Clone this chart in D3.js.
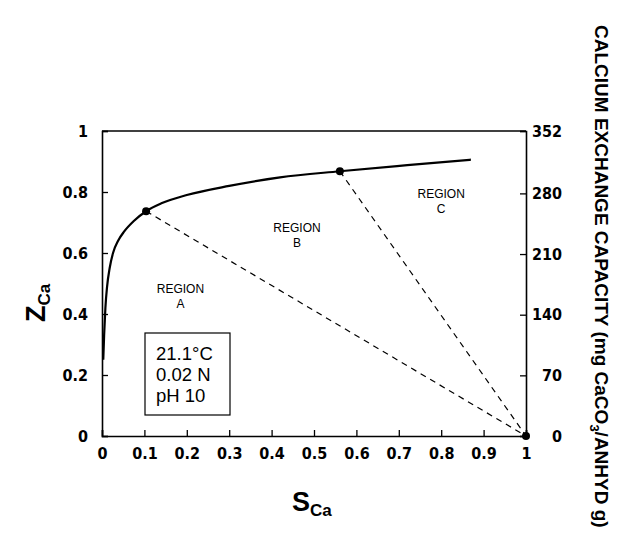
<!DOCTYPE html>
<html>
<head>
	<meta charset="utf-8">
	<script src="https://d3js.org/d3.v7.min.js"></script>
	<title>Calcium exchange isotherm</title>
	<style type="text/css">
		body { margin: 0; background: #fff; }
		.tick text { font-family: "DejaVu Sans Condensed", "Liberation Sans", sans-serif; font-stretch: condensed; font-weight: bold; font-size: 16px; }
	</style>
</head>
<body>
	<div id="chartContainer"></div>
	<script type="text/javascript">
		// curve
		var sCa = [0.003, 0.005, 0.008, 0.012, 0.018, 0.026, 0.038, 0.052, 0.075, 0.104, 0.14, 0.2, 0.3, 0.42, 0.561, 0.72, 0.87];
		var zCa = [0.25, 0.33, 0.42, 0.49, 0.55, 0.60, 0.64, 0.67, 0.705, 0.737, 0.763, 0.79, 0.82, 0.848, 0.868, 0.888, 0.906];
		// region boundary points
		var dotS = [0.104, 0.561, 1];
		var dotZ = [0.737, 0.868, 0];
		var xTicks = [0, 0.1, 0.2, 0.3, 0.4, 0.5, 0.6, 0.7, 0.8, 0.9, 1];
		var yTicks = [0, 0.2, 0.4, 0.6, 0.8, 1];
		var capTicks = [0, 70, 140, 210, 280, 352];
		var regions = [["REGION", "A", 0.185, 0.47], ["REGION", "B", 0.46, 0.67], ["REGION", "C", 0.8, 0.78]];
		var legendLines = ["21.1°C", "0.02 N", "pH 10"];

		var svg = d3.select('#chartContainer').append('svg')
			.attr('width', 621).attr('height', 540);

		var x = d3.scaleLinear().domain([0, 1]).range([102, 526]);
		var y = d3.scaleLinear().domain([0, 1]).range([436, 131]);
		var y2 = d3.scaleLinear().domain([0, 352]).range([436, 131]);

		// frame top line
		svg.append('line')
			.attr('x1', x(0)).attr('x2', x(1)).attr('y1', y(1)).attr('y2', y(1))
			.attr('stroke', '#000').attr('stroke-width', 1.5);

		var xAxis = svg.append('g').attr('transform', 'translate(0,' + y(0) + ')')
			.call(d3.axisBottom(x).tickValues(xTicks).tickSize(-6).tickPadding(12)
				.tickFormat(function (d) { return d === 0 ? '0' : d3.format('.1f')(d).replace(/\.0$/, ''); }));
		var yAxis = svg.append('g').attr('transform', 'translate(' + x(0) + ',0)')
			.call(d3.axisLeft(y).tickValues(yTicks).tickSize(-6).tickPadding(14)
				.tickFormat(function (d) { return d === 0 || d === 1 ? d : d3.format('.1f')(d); }));
		var y2Axis = svg.append('g').attr('transform', 'translate(' + x(1) + ',0)')
			.call(d3.axisRight(y2).tickValues(capTicks).tickSize(-6).tickPadding(16));
		y2Axis.selectAll('text').attr('text-anchor', 'end').attr('x', 36);

		[xAxis, yAxis, y2Axis].forEach(function (g) {
			g.select('.domain').attr('stroke-width', 1.6);
			g.selectAll('.tick line').attr('stroke-width', 1.3);
			g.selectAll('.tick text').attr('fill', '#000');
		});

		// dashed region boundaries
		for (var i = 0; i < 2; i++) {
			svg.append('line')
				.attr('x1', x(dotS[i])).attr('y1', y(dotZ[i]))
				.attr('x2', x(dotS[2])).attr('y2', y(dotZ[2]))
				.attr('stroke', '#000').attr('stroke-width', 1.2)
				.attr('stroke-dasharray', '6,5');
		}

		// isotherm
		var line = d3.line()
			.x(function (d, i) { return x(sCa[i]); })
			.y(function (d, i) { return y(zCa[i]); })
			.curve(d3.curveMonotoneX);
		svg.append('path').datum(sCa)
			.attr('d', line)
			.attr('fill', 'none').attr('stroke', '#000').attr('stroke-width', 2.2);

		svg.selectAll('circle.dot').data(dotS).enter().append('circle')
			.attr('class', 'dot')
			.attr('cx', function (d) { return x(d); })
			.attr('cy', function (d, i) { return y(dotZ[i]); })
			.attr('r', 4).attr('fill', '#000');

		// region labels
		regions.forEach(function (r) {
			var t = svg.append('text')
				.attr('x', x(r[2])).attr('y', y(r[3]))
				.style('text-anchor', 'middle')
				.style('font-family', 'Liberation Sans, Arial, sans-serif')
				.style('font-size', '12px');
			t.append('tspan').attr('x', x(r[2])).text(r[0]);
			t.append('tspan').attr('x', x(r[2])).attr('dy', 15).text(r[1]);
		});

		// legend box
		svg.append('rect')
			.attr('x', 145).attr('y', 333).attr('width', 85).attr('height', 82)
			.attr('fill', '#fff').attr('stroke', '#000').attr('stroke-width', 1.2);
		legendLines.forEach(function (s, i) {
			svg.append('text')
				.attr('x', 156).attr('y', 360 + i * 21)
				.style('font-family', 'Liberation Sans, Arial, sans-serif')
				.style('font-size', '18.5px')
				.text(s);
		});

		// axis titles
		var xt = svg.append('text')
			.attr('x', 292).attr('y', 511)
			.style('font-family', 'Liberation Sans, Arial, sans-serif')
			.style('font-weight', 'bold');
		xt.append('tspan').style('font-size', '27px').text('S');
		xt.append('tspan').style('font-size', '17px').attr('dy', 5).text('Ca');

		var yt = svg.append('text')
			.attr('transform', 'translate(45,322) rotate(-90)')
			.style('font-family', 'Liberation Sans, Arial, sans-serif')
			.style('font-weight', 'bold');
		yt.append('tspan').style('font-size', '27px').text('Z');
		yt.append('tspan').style('font-size', '17px').attr('dy', 5).text('Ca');

		var rt = svg.append('text')
			.attr('transform', 'translate(595,25) rotate(90)')
			.style('font-family', '"Liberation Sans", Arial, sans-serif')
			.style('font-weight', 'bold')
			.style('font-size', '19px');
		rt.append('tspan').text('CALCIUM EXCHANGE CAPACITY (mg CaCO');
		rt.append('tspan').attr('dy', 5).style('font-size', '13px').text('3');
		rt.append('tspan').attr('dy', -5).text('/ANHYD g)');
	</script>
</body>
</html>
